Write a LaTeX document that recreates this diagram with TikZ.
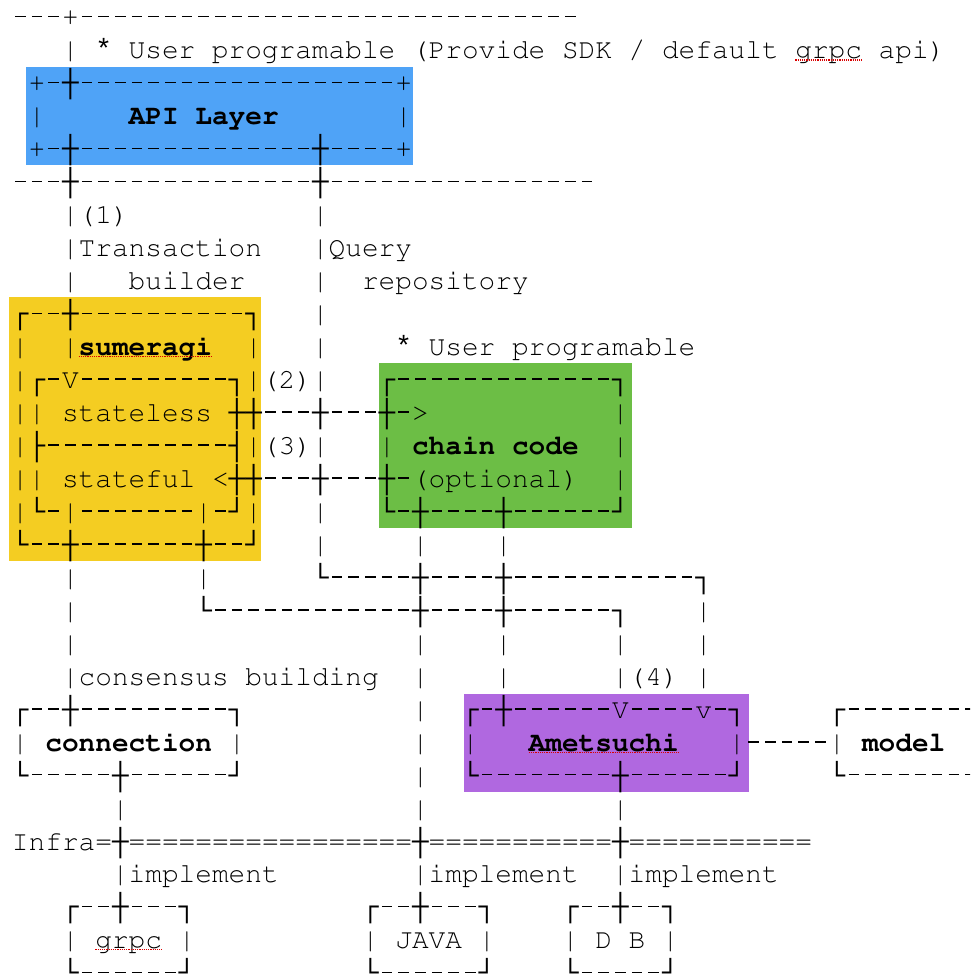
\documentclass[tikz,border=0pt]{standalone}
\usepackage{fontspec}
\usepackage{newunicodechar}
\newfontfamily\boxfont{Liberation Mono}
\definecolor{apiblue}{HTML}{4FA3F7}
\definecolor{sumeragiyellow}{HTML}{F4CD22}
\definecolor{chaingreen}{HTML}{6CBE45}
\definecolor{ametsuchipurple}{HTML}{B068E0}
% typewriter text in Courier, line-drawing characters from Liberation Mono
\newcommand\cour{\fontencoding{T1}\fontfamily{pcr}\fontseries{m}\fontshape{n}\fontsize{27.78}{33}\selectfont}
\newunicodechar{┌}{{\boxfont\bfseries ┌}}
\newunicodechar{┐}{{\boxfont\bfseries ┐}}
\newunicodechar{└}{{\boxfont\bfseries └}}
\newunicodechar{┘}{{\boxfont\bfseries ┘}}
\newunicodechar{┼}{{\boxfont\bfseries ┼}}
\newunicodechar{├}{{\boxfont\bfseries ├}}
\newunicodechar{┤}{{\boxfont\bfseries ┤}}
\newcommand\hy{\makebox[16.668pt]{\rule[8.6pt]{10.5pt}{1.5pt}}}
\newcommand\asterisk{{\boxfont *}}
% blank cells and repeated characters of the text grid
\newcommand\sk[1]{\hspace*{#1\dimexpr16.668pt\relax}}
\newcommand\rpt[2]{\ifnum#1>0 #2{}\expandafter\rpt\expandafter{\the\numexpr#1-1\relax}{#2}\fi}
\newcommand\rowy[1]{26+32.96*#1}
\newcommand\colx[1]{12+16.668*#1}

\begin{document}
\begin{tikzpicture}[x=1pt, y=-1pt,
    ascii/.style={anchor=base west, inner sep=0pt, outer sep=0pt, font=\cour},
    spell/.style={red!85!black, densely dotted, line width=1.2pt}]
\path[use as bounding box, clip] (0,0) rectangle (970,974);
\fill[white] (0,0) rectangle (970,974);

% coloured layers
\fill[apiblue] (26,67) rectangle (413,165);
\fill[sumeragiyellow] (9,297) rectangle (261,561);
\fill[chaingreen] (379,363) rectangle (632,528);
\fill[ametsuchipurple] (464,694) rectangle (749,792);

% the text grid, one node per line
\node[ascii] (L0) at (12,{\rowy{0}}) {\rpt{3}{\hy}+\rpt{30}{\hy}};
\node[ascii] (L1) at (12,{\rowy{1}}) {\sk{3}| \asterisk{} User programable (Provide SDK / default grpc api)};
\node[ascii] (L2) at (12,{\rowy{2}}) {\sk{1}+\hy┼\rpt{19}{\hy}+};
\node[ascii] (L3) at (12,{\rowy{3}}) {\sk{1}|\sk{5}\textbf{API Layer}\sk{7}|};
\node[ascii] (L4) at (12,{\rowy{4}}) {\sk{1}+\hy┼\rpt{14}{\hy}┼\rpt{4}{\hy}+};
\node[ascii] (L5) at (12,{\rowy{5}}) {\rpt{3}{\hy}┼\rpt{14}{\hy}┼\rpt{16}{\hy}};
\node[ascii] (L6) at (12,{\rowy{6}}) {\sk{3}|(1)\sk{11}|};
\node[ascii] (L7) at (12,{\rowy{7}}) {\sk{3}|Transaction\sk{3}|Query};
\node[ascii] (L8) at (12,{\rowy{8}}) {\sk{3}|\sk{3}builder\sk{4}|\sk{2}repository};
\node[ascii] (L9) at (12,{\rowy{9}}) {┌\rpt{2}{\hy}┼\rpt{10}{\hy}┐\sk{3}|};
\node[ascii] (L10) at (12,{\rowy{10}}) {|\sk{2}|\textbf{sumeragi}\sk{2}|\sk{3}|\sk{4}\asterisk{} User programable};
\node[ascii] (L11) at (12,{\rowy{11}}) {|┌\hy V\rpt{9}{\hy}┐|(2)|\sk{3}┌\rpt{13}{\hy}┐};
\node[ascii] (L12) at (12,{\rowy{12}}) {||\sk{1}stateless\sk{1}┼┼\rpt{3}{\hy}┼\rpt{3}{\hy}┼\hy>\sk{11}|};
\node[ascii] (L13) at (12,{\rowy{13}}) {|├\rpt{11}{\hy}┤|(3)|\sk{3}|\sk{1}\textbf{chain code}\sk{2}|};
\node[ascii] (L14) at (12,{\rowy{14}}) {||\sk{1}stateful\sk{1}<┼┼\rpt{3}{\hy}┼\rpt{3}{\hy}┼\hy(optional)\sk{2}|};
\node[ascii] (L15) at (12,{\rowy{15}}) {|└\hy|\rpt{7}{\hy}|\hy┘|\sk{3}|\sk{3}└\hy┼\rpt{4}{\hy}┼\rpt{6}{\hy}┘};
\node[ascii] (L16) at (12,{\rowy{16}}) {└\rpt{2}{\hy}┼\rpt{7}{\hy}┼\rpt{2}{\hy}┘\sk{3}|\sk{5}|\sk{4}|};
\node[ascii] (L17) at (12,{\rowy{17}}) {\sk{3}|\sk{7}|\sk{6}└\rpt{5}{\hy}┼\rpt{4}{\hy}┼\rpt{11}{\hy}┐};
\node[ascii] (L18) at (12,{\rowy{18}}) {\sk{3}|\sk{7}└\rpt{12}{\hy}┼\rpt{4}{\hy}┼\rpt{6}{\hy}┐\sk{4}|};
\node[ascii] (L19) at (12,{\rowy{19}}) {\sk{3}|\sk{20}|\sk{4}|\sk{6}|\sk{4}|};
\node[ascii] (L20) at (12,{\rowy{20}}) {\sk{3}|consensus building\sk{2}|\sk{4}|\sk{6}|(4)\sk{1}|};
\node[ascii] (L21) at (12,{\rowy{21}}) {┌\rpt{2}{\hy}┼\rpt{9}{\hy}┐\sk{10}|\sk{2}┌\hy┼\rpt{6}{\hy}V\rpt{4}{\hy}v\hy┐\sk{5}┌\rpt{10}{\hy}};
\node[ascii] (L22) at (12,{\rowy{22}}) {|\sk{1}\textbf{connection}\sk{1}|\sk{10}|\sk{2}|\sk{3}\textbf{Ametsuchi}\sk{3}|\rpt{5}{\hy}|\sk{1}\textbf{model}};
\node[ascii] (L23) at (12,{\rowy{23}}) {└\rpt{5}{\hy}┼\rpt{6}{\hy}┘\sk{10}|\sk{2}└\rpt{8}{\hy}┼\rpt{6}{\hy}┘\sk{5}└\rpt{10}{\hy}};
\node[ascii] (L24) at (12,{\rowy{24}}) {\sk{6}|\sk{17}|\sk{11}|};
\node[ascii] (L25) at (12,{\rowy{25}}) {Infra=┼\rpt{17}{=}┼\rpt{11}{=}┼\rpt{11}{=}};
\node[ascii] (L26) at (12,{\rowy{26}}) {\sk{6}|implement\sk{8}|implement\sk{2}|implement};
\node[ascii] (L27) at (12,{\rowy{27}}) {\sk{3}┌\rpt{2}{\hy}┼\rpt{3}{\hy}┐\sk{10}┌\rpt{2}{\hy}┼\rpt{3}{\hy}┐\sk{4}┌\rpt{2}{\hy}┼\rpt{2}{\hy}┐};
\node[ascii] (L28) at (12,{\rowy{28}}) {\sk{3}|\sk{1}grpc\sk{1}|\sk{10}|\sk{1}JAVA\sk{1}|\sk{4}|\sk{1}D\sk{1}B\sk{1}|};
\node[ascii] (L29) at (12,{\rowy{29}}) {\sk{3}└\rpt{6}{\hy}┘\sk{10}└\rpt{6}{\hy}┘\sk{4}└\rpt{5}{\hy}┘};

% spell-check marks
\draw[spell] ({\colx{47}},{\rowy{1}+1}) -- ({\colx{51}},{\rowy{1}+1});
\draw[spell] ({\colx{4}},{\rowy{10}+1}) -- ({\colx{12}},{\rowy{10}+1});
\draw[spell] ({\colx{31}},{\rowy{22}+1}) -- ({\colx{40}},{\rowy{22}+1});
\draw[spell] ({\colx{5}},{\rowy{28}+1}) -- ({\colx{9}},{\rowy{28}+1});
\end{tikzpicture}
\end{document}
